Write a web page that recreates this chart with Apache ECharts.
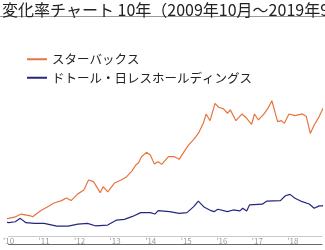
<!DOCTYPE html>
<html>
<head>
<meta charset="utf-8">
<script src="https://cdn.jsdelivr.net/npm/echarts@6/dist/echarts.min.js"></script>
<style>
html,body{margin:0;padding:0;background:#fff;}
#c{width:325px;height:250px;}
</style>
</head>
<body>
<div id="c"></div>
<script>
var titleText = '変化率チャート 10年（2009年10月～2019年9月）';
var seriesNames = ['スターバックス', 'ドトール・日レスホールディングス'];
var yearTicks = [2010, 2011, 2012, 2013, 2014, 2015, 2016, 2017, 2018];

// Starbucks: decimal year, % change
var sbuxDates = [2009.75, 2009.83, 2009.92, 2010.00, 2010.19, 2010.35, 2010.62, 2010.68, 2010.90, 2011.09, 2011.28, 2011.49, 2011.63, 2011.76, 2011.95, 2012.12, 2012.25, 2012.39, 2012.58, 2012.66, 2012.79, 2012.98, 2013.17, 2013.31, 2013.47, 2013.58, 2013.66, 2013.74, 2013.88, 2013.99, 2014.10, 2014.21, 2014.31, 2014.50, 2014.67, 2014.80, 2014.94, 2015.07, 2015.21, 2015.34, 2015.48, 2015.56, 2015.67, 2015.81, 2015.91, 2016.05, 2016.16, 2016.24, 2016.40, 2016.57, 2016.70, 2016.84, 2016.92, 2017.03, 2017.19, 2017.30, 2017.41, 2017.57, 2017.68, 2017.76, 2017.89, 2018.06, 2018.27, 2018.38, 2018.49, 2018.60, 2018.74, 2018.82, 2018.90];
var sbuxValues = [0, 5, 9, 11, 17, 29, 21, 18, 43, 58, 75, 85, 96, 85, 113, 129, 171, 164, 118, 143, 121, 158, 171, 183, 208, 233, 243, 268, 286, 275, 238, 247, 236, 268, 268, 257, 289, 317, 340, 365, 407, 446, 418, 490, 474, 467, 449, 463, 418, 446, 428, 403, 446, 421, 446, 470, 501, 414, 418, 407, 446, 439, 446, 435, 365, 400, 435, 460, 483];

// Doutor Nichires: decimal year, % change
var doutorDates = [2009.75, 2009.83, 2009.92, 2010.00, 2010.19, 2010.33, 2010.49, 2010.73, 2011.00, 2011.36, 2011.68, 2011.95, 2012.22, 2012.44, 2012.79, 2013.04, 2013.26, 2013.47, 2013.72, 2013.99, 2014.12, 2014.21, 2014.53, 2014.80, 2015.02, 2015.21, 2015.34, 2015.51, 2015.70, 2015.78, 2015.89, 2016.16, 2016.32, 2016.51, 2016.59, 2016.70, 2016.78, 2017.14, 2017.27, 2017.65, 2017.79, 2017.92, 2018.06, 2018.22, 2018.46, 2018.60, 2018.74, 2018.82, 2018.90];
var doutorValues = [0, -3, -5, -7, -3, 11, -7, -10, -10, -21, -21, -13, -10, -20, -17, 4, 7, 18, 35, 35, 29, 43, 39, 32, 35, 60, 83, 57, 43, 39, 49, 39, 46, 42, 53, 42, 67, 70, 83, 85, 105, 111, 95, 83, 71, 53, 63, 63, 65];

function pairs(xs, ys) { return xs.map(function (x, i) { return [x, ys[i]]; }); }

var chart = echarts.init(document.getElementById('c'), null, { renderer: 'canvas' });
var font = '"Noto Sans CJK JP", "Noto Sans", sans-serif';
chart.setOption({
  animation: false,
  backgroundColor: '#fff',
  textStyle: { fontFamily: font },
  title: {
    text: titleText,
    left: -3, top: -3,
    textStyle: { fontSize: 16, fontWeight: 'normal', color: '#222', fontFamily: font }
  },
  graphic: [{
    type: 'line', shape: { x1: 0, y1: 16.5, x2: 325, y2: 16.5 },
    style: { stroke: '#9a9a9a', lineWidth: 1 }
  }],
  legend: {
    orient: 'vertical', left: 22, top: 48, itemWidth: 20, itemHeight: 2, itemGap: 6,
    icon: 'rect',
    textStyle: { fontSize: 12.5, color: '#222', fontFamily: font },
    data: seriesNames
  },
  grid: { left: 0, right: 0, top: 92, bottom: 14 },
  xAxis: [{
    type: 'value', min: 2010, max: 2018.82, interval: 1,
    axisLine: { show: true, onZero: false, lineStyle: { color: '#c8c8c8', width: 1 } },
    axisTick: { show: false },
    splitLine: { show: false },
    axisLabel: {
      fontSize: 8, color: '#9a9a9a', margin: 1,
      formatter: function (v) { return yearTicks.indexOf(v) >= 0 ? "'" + String(v).slice(2) : ''; }
    }
  }, {
    type: 'value', min: 2010, max: 2018.82, position: 'bottom', offset: 8,
    axisLine: { show: true, onZero: false, lineStyle: { color: '#6a6a6a', width: 1 } },
    axisTick: { show: false }, axisLabel: { show: false }, splitLine: { show: false }
  }],
  yAxis: { type: 'value', min: -62.5, max: 537.5, show: false, splitLine: { show: false } },
  series: [{
    name: seriesNames[0], type: 'line', xAxisIndex: 0, data: pairs(sbuxDates, sbuxValues),
    showSymbol: false, symbol: 'none', color: '#e8743f',
    lineStyle: { width: 1.2, color: '#e8743f' }
  }, {
    name: seriesNames[1], type: 'line', xAxisIndex: 0, data: pairs(doutorDates, doutorValues),
    showSymbol: false, symbol: 'none', color: '#262680',
    lineStyle: { width: 1.2, color: '#262680' }
  }]
});
</script>
</body>
</html>
